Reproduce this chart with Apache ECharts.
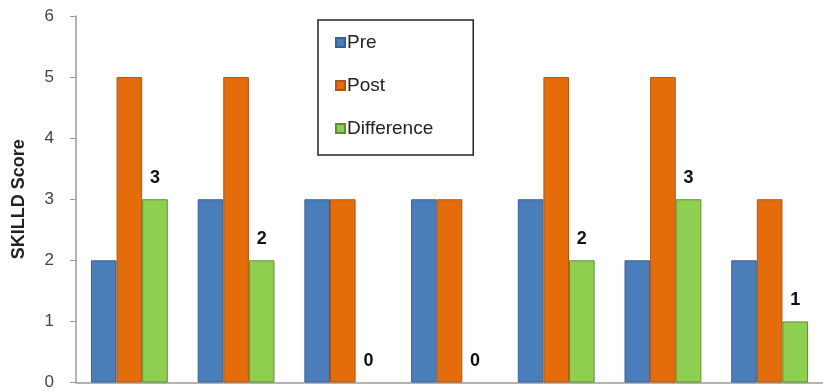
<!DOCTYPE html>
<html>
<head>
<meta charset="utf-8">
<script src="https://cdn.jsdelivr.net/npm/echarts@6/dist/echarts.min.js"></script>
<style>
  html, body { margin: 0; padding: 0; background: #fff; }
  #chart { width: 823px; height: 391px; }
</style>
</head>
<body>
<div id="chart"></div>
<script>
// Seven participants, SKILLD score before and after, plus the change
const categories = ['1', '2', '3', '4', '5', '6', '7'];
const preScores = [2, 3, 3, 3, 3, 2, 2];
const postScores = [5, 5, 3, 3, 5, 5, 3];
const diffScores = [3, 2, 0, 0, 2, 3, 1];
const yTicks = [0, 1, 2, 3, 4, 5, 6];

const chart = echarts.init(document.getElementById('chart'));

function barSeries(name, data, fill, edge, withLabel) {
  return {
    name: name,
    type: 'bar',
    // zero-height bars get no outline so nothing shows on the baseline
    data: data.map(v => v === 0 ? { value: v, itemStyle: { borderWidth: 0 } } : v),
    barWidth: '24%',
    barGap: '0%',
    itemStyle: { color: fill, borderColor: edge, borderWidth: 1 },
    label: withLabel ? {
      show: true,
      position: 'top',
      distance: 12,
      fontFamily: 'Liberation Sans, Arial, sans-serif',
      fontWeight: 'bold',
      fontSize: 18,
      color: '#111'
    } : { show: false }
  };
}

chart.setOption({
  animation: false,
  backgroundColor: '#fff',
  grid: { left: 76, right: 0, top: 16, bottom: 6, containLabel: false },
  legend: {
    orient: 'vertical',
    left: 318,
    top: 20,
    padding: [13, 40, 17, 17],
    itemGap: 24,
    itemWidth: 9,
    itemHeight: 9,
    borderColor: '#222',
    borderWidth: 1.5,
    icon: 'rect',
    textStyle: {
      fontFamily: 'Liberation Sans, Arial, sans-serif',
      fontSize: 19,
      color: '#222',
      padding: [0, 0, 0, -3]
    },
    data: ['Pre', 'Post', 'Difference']
  },
  xAxis: {
    type: 'category',
    data: categories,
    axisLine: { show: true, lineStyle: { color: '#9a9a9a', width: 1.5 } },
    axisTick: { show: false },
    axisLabel: { show: false }
  },
  yAxis: {
    type: 'value',
    min: yTicks[0],
    max: yTicks[yTicks.length - 1],
    interval: 1,
    name: 'SKILLD Score',
    nameLocation: 'middle',
    nameGap: 48,
    nameTextStyle: {
      fontFamily: 'Liberation Sans, Arial, sans-serif',
      fontWeight: 'bold',
      fontSize: 18,
      color: '#222'
    },
    axisLine: { show: true, lineStyle: { color: '#9a9a9a', width: 1.5 } },
    axisTick: { show: true, inside: false, length: 6, lineStyle: { color: '#9a9a9a' } },
    splitLine: { show: false },
    axisLabel: {
      margin: 22,
      fontFamily: 'Liberation Sans, Arial, sans-serif',
      fontSize: 17,
      color: '#444'
    }
  },
  series: [
    barSeries('Pre', preScores, '#4a7ebb', '#35609a', false),
    barSeries('Post', postScores, '#e46c0a', '#b3550d', false),
    barSeries('Difference', diffScores, '#8fcf4f', '#5f8f35', true)
  ]
});
</script>
</body>
</html>
